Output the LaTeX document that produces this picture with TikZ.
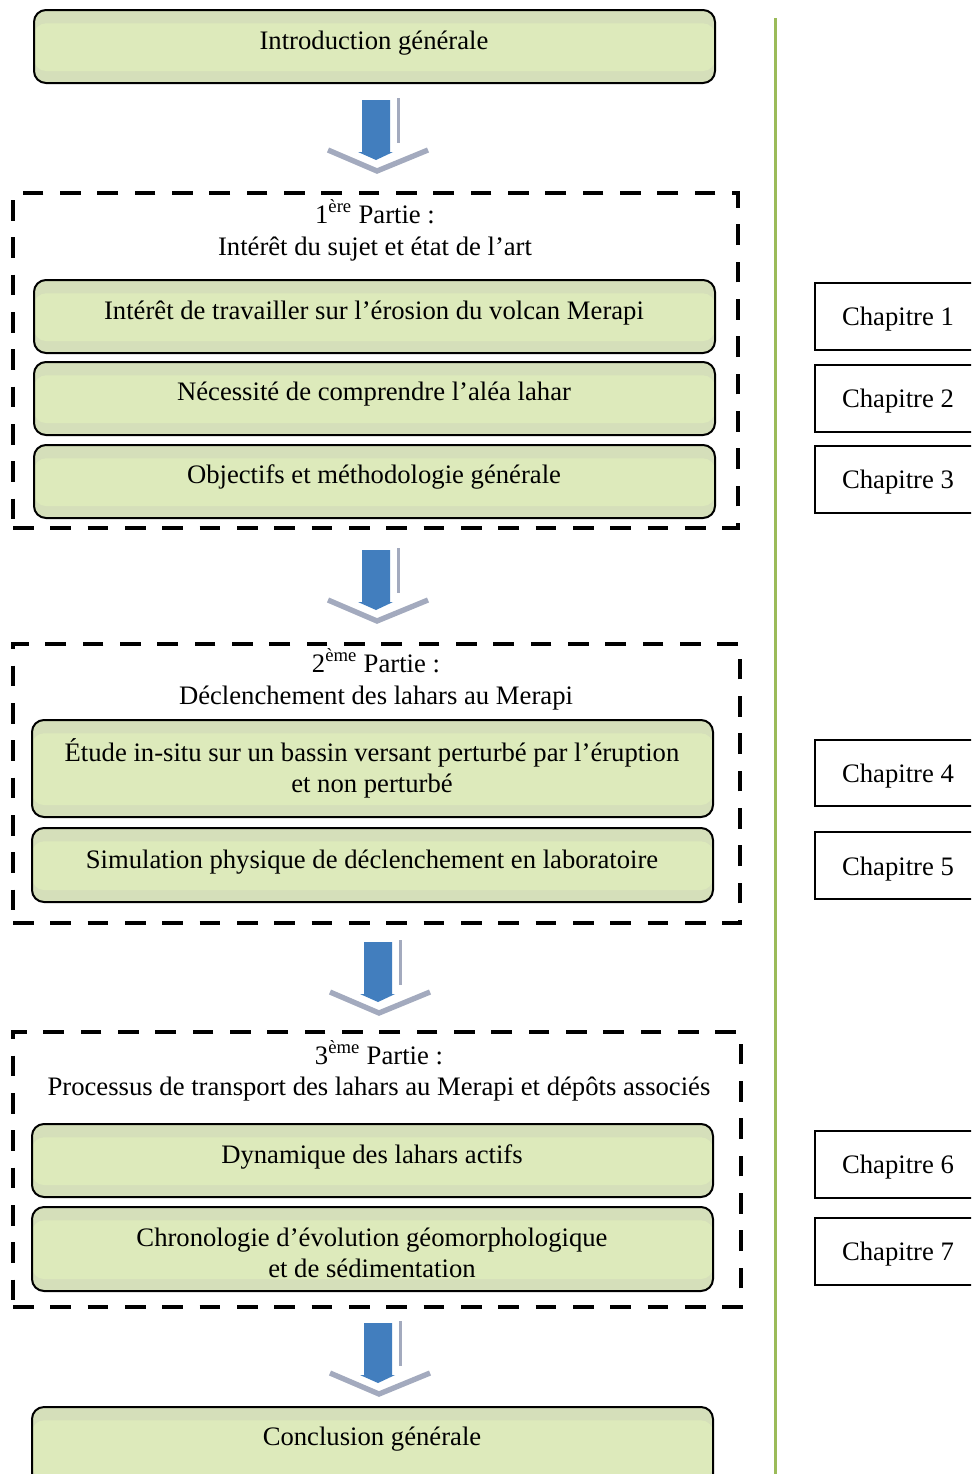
\documentclass[tikz,border=0pt]{standalone}
\usepackage{fontspec}
\setmainfont{Liberation Serif}
\definecolor{gfill}{RGB}{221,234,187}
\definecolor{gband}{RGB}{213,223,186}
\definecolor{arrblue}{RGB}{66,126,190}
\definecolor{chev}{RGB}{163,170,190}
\definecolor{vline}{RGB}{155,187,89}
\tikzset{
 gbox/.style={draw=black, line width=1.5pt, rounded corners=9pt, fill=gband,
   path picture={\fill[gfill] ([yshift=-10pt]path picture bounding box.north west) rectangle ([yshift=9pt]path picture bounding box.south east);}},
 dbox/.style={draw=black, line width=3pt, dash pattern=on 15.5pt off 12.5pt},
 cbox/.style={draw=black, line width=1.1pt, fill=white},
 txt/.style={font=\fontsize{20}{23.3}\selectfont, align=center, inner sep=0pt},
 btxt/.style={txt, anchor=base},
 downarrow/.pic={
   \draw[chev, line width=4pt, line join=miter] (-48,50) -- (1,71) -- (52,50);
   \draw[chev, line width=2.25pt] (22,-2) -- (22,43);
   \fill[arrblue] (-14,0) -- (14,0) -- (14,52) -- (17,52) -- (0,60) -- (-18,52) -- (-14,52) -- cycle;
 }
}
\newcommand{\gboxat}[5]{\node[gbox, minimum width={(#4-#2)*0.75pt}, minimum height={(#5-#3)*0.75pt}] (#1) at ({(#2+#4)/2},{(#3+#5)/2}) {};}
\begin{document}
\begin{tikzpicture}[x=0.75pt,y=-0.75pt]
\clip (0,0) rectangle (971,1474);
\fill[white] (0,0) rectangle (971,1474);
% vertical line
\coordinate (vt) at (775,18);
\coordinate (vb) at (775,1480);
\draw[vline, line width=2.25pt] (vt) -- (vb);
% intro
\gboxat{intro}{34}{10}{715}{83}
\node[btxt] (introt) at (374,49) {Introduction générale};
\pic at (376,100) {downarrow};
% part 1
\node[dbox, minimum width={725*0.75pt}, minimum height={335*0.75pt}] (p1) at (375.5,360.5) {};
\node[btxt] (p1a) at (375,223) {1\textsuperscript{ère} Partie :};
\node[btxt] (p1b) at (375,255) {Intérêt du sujet et état de l’art};
\gboxat{b11}{34}{280}{715}{353}
\node[btxt] (b11t) at (374,319) {Intérêt de travailler sur l’érosion du volcan Merapi};
\gboxat{b12}{34}{362}{715}{435}
\node[btxt] (b12t) at (374,400) {Nécessité de comprendre l’aléa lahar};
\gboxat{b13}{34}{445}{715}{518}
\node[btxt] (b13t) at (374,483) {Objectifs et méthodologie générale};
\pic at (376,550) {downarrow};
% part 2
\node[dbox, minimum width={727*0.75pt}, minimum height={279*0.75pt}] (p2) at (376.5,783.5) {};
\node[btxt] (p2a) at (376,672) {2\textsuperscript{ème} Partie :};
\node[btxt] (p2b) at (376,704) {Déclenchement des lahars au Merapi};
\gboxat{b21}{32}{720}{713}{817}
\node[txt] (b21t) at (372,768) {Étude in-situ sur un bassin versant perturbé par l’éruption\\et non perturbé};
\gboxat{b22}{32}{828}{713}{902}
\node[btxt] (b22t) at (372,868) {Simulation physique de déclenchement en laboratoire};
\pic at (378,942) {downarrow};
% part 3
\node[dbox, minimum width={728*0.75pt}, minimum height={275*0.75pt}] (p3) at (377,1169.5) {};
\node[btxt] (p3a) at (379,1064) {3\textsuperscript{ème} Partie :};
\node[btxt] (p3b) at (379,1095) {Processus de transport des lahars au Merapi et dépôts associés};
\gboxat{b31}{32}{1124}{713}{1197}
\node[btxt] (b31t) at (372,1163) {Dynamique des lahars actifs};
\gboxat{b32}{32}{1207}{713}{1291}
\node[txt] (b32t) at (372,1252.5) {Chronologie d’évolution géomorphologique\\et de sédimentation};
\pic at (378,1323) {downarrow};
% conclusion
\gboxat{concl}{32}{1407}{713}{1490}
\node[btxt] (conclt) at (372,1445) {Conclusion générale};
% chapters
\node[cbox, minimum width={170*0.75pt}, minimum height={67*0.75pt}] (c1) at (900,316.5) {};
\node[btxt] (c1t) at (898,325) {Chapitre 1};
\node[cbox, minimum width={170*0.75pt}, minimum height={67*0.75pt}] (c2) at (900,398.5) {};
\node[btxt] (c2t) at (898,407) {Chapitre 2};
\node[cbox, minimum width={170*0.75pt}, minimum height={67*0.75pt}] (c3) at (900,479.5) {};
\node[btxt] (c3t) at (898,488) {Chapitre 3};
\node[cbox, minimum width={170*0.75pt}, minimum height={66*0.75pt}] (c4) at (900,773) {};
\node[btxt] (c4t) at (898,782) {Chapitre 4};
\node[cbox, minimum width={170*0.75pt}, minimum height={67*0.75pt}] (c5) at (900,865.5) {};
\node[btxt] (c5t) at (898,875) {Chapitre 5};
\node[cbox, minimum width={170*0.75pt}, minimum height={67*0.75pt}] (c6) at (900,1164.5) {};
\node[btxt] (c6t) at (898,1173) {Chapitre 6};
\node[cbox, minimum width={170*0.75pt}, minimum height={67*0.75pt}] (c7) at (900,1251.5) {};
\node[btxt] (c7t) at (898,1260) {Chapitre 7};
\end{tikzpicture}
\end{document}
